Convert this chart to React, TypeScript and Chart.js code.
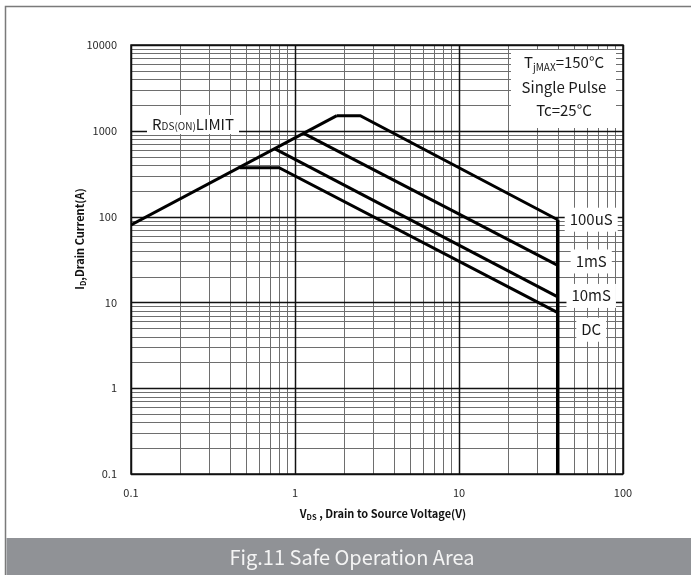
import React, { useEffect, useRef } from "react";
import { Chart, registerables } from "chart.js";

Chart.register(...registerables);

const FONT = '"Noto Sans CJK SC", "Noto Sans", sans-serif';

// Axis ticks
const xTickValues = [0.1, 1, 10, 100];
const xTickLabels = ["0.1", "1", "10", "100"];
const yTickValues = [0.1, 1, 10, 100, 1000, 10000];
const yTickLabels = ["0.1", "1", "10", "100", "1000", "10000"];

// Series (VDS in V, ID in A)
const rdsLimitV = [0.1, 1.8];
const rdsLimitI = [80, 1500];
const us100V = [1.8, 2.5, 40];
const us100I = [1500, 1500, 92];
const ms1V = [1.13, 40];
const ms1I = [935, 27];
const ms10V = [0.76, 40];
const ms10I = [612, 11.6];
const dcV = [0.46, 0.8, 40];
const dcI = [372, 372, 7.6];
const bvV = [40, 40];
const bvI = [92, 0.1];

const curveNames = ["100uS", "1mS", "10mS", "DC"];
const curveNameI = [92, 30, 11.9, 4.8];
const curveNameV = 64;

const toXY = (xs: number[], ys: number[]) => xs.map((x, i) => ({ x, y: ys[i] }));

function drawRich(
  ctx: CanvasRenderingContext2D,
  parts: { t: string; size: number; dy?: number; bold?: boolean }[],
  cx: number,
  baseline: number
) {
  let total = 0;
  const widths = parts.map((p) => {
    ctx.font = `${p.bold ? "bold " : ""}${p.size}px ${FONT}`;
    const w = ctx.measureText(p.t).width;
    total += w;
    return w;
  });
  let x = cx - total / 2;
  ctx.textAlign = "left";
  ctx.textBaseline = "alphabetic";
  parts.forEach((p, i) => {
    ctx.font = `${p.bold ? "bold " : ""}${p.size}px ${FONT}`;
    ctx.fillText(p.t, x, baseline + (p.dy || 0));
    x += widths[i];
  });
  return total;
}

const gridPlugin = {
  id: "logGrid",
  beforeDatasetsDraw(chart: any) {
    const { ctx, chartArea: a, scales } = chart;
    const xs = scales.x;
    const ys = scales.y;
    ctx.save();
    const vline = (v: number) => {
      const px = Math.round(xs.getPixelForValue(v)) + 0.5;
      ctx.beginPath();
      ctx.moveTo(px, a.top);
      ctx.lineTo(px, a.bottom);
      ctx.stroke();
    };
    const hline = (v: number) => {
      const py = Math.round(ys.getPixelForValue(v)) + 0.5;
      ctx.beginPath();
      ctx.moveTo(a.left, py);
      ctx.lineTo(a.right, py);
      ctx.stroke();
    };
    ctx.strokeStyle = "#6e6e6e";
    ctx.lineWidth = 1;
    for (let e = -1; e <= 1; e++) for (let m = 2; m <= 9; m++) vline(m * Math.pow(10, e));
    for (let e = -1; e <= 3; e++) for (let m = 2; m <= 9; m++) hline(m * Math.pow(10, e));
    ctx.strokeStyle = "#111";
    ctx.lineWidth = 1.5;
    xTickValues.forEach(vline);
    yTickValues.forEach(hline);
    ctx.strokeRect(a.left, a.top, a.right - a.left, a.bottom - a.top);
    ctx.restore();
  },
  afterDatasetsDraw(chart: any) {
    const { ctx, scales } = chart;
    const xs = scales.x;
    const ys = scales.y;
    ctx.save();
    ctx.fillStyle = "#1a1a1a";

    // RDS(ON) LIMIT label
    ctx.fillStyle = "#fff";
    ctx.fillRect(147, 115, 92, 19);
    ctx.fillStyle = "#1a1a1a";
    drawRich(
      ctx,
      [
        { t: "R", size: 15 },
        { t: "DS(ON)", size: 10 },
        { t: "LIMIT", size: 15 },
      ],
      193,
      130
    );

    // Condition box
    ctx.fillStyle = "#fff";
    ctx.fillRect(511, 50, 105, 78);
    ctx.fillStyle = "#1a1a1a";
    drawRich(
      ctx,
      [
        { t: "T", size: 15 },
        { t: "jMAX", size: 10, dy: 3 },
        { t: "=150°C", size: 15 },
      ],
      564,
      68
    );
    drawRich(ctx, [{ t: "Single Pulse", size: 15 }], 564, 93);
    drawRich(ctx, [{ t: "Tc=25°C", size: 15 }], 564, 116);

    // curve names
    const cx = xs.getPixelForValue(curveNameV);
    curveNames.forEach((n, i) => {
      const cy = ys.getPixelForValue(curveNameI[i]);
      ctx.font = `15px ${FONT}`;
      const w = ctx.measureText(n).width;
      ctx.fillStyle = "#fff";
      ctx.fillRect(cx - w / 2 - 5, cy - 12, w + 10, 24);
      ctx.fillStyle = "#1a1a1a";
      drawRich(ctx, [{ t: n, size: 15 }], cx, cy + 5.5);
    });
    ctx.restore();
  },
  afterDraw(chart: any) {
    const { ctx, chartArea: a } = chart;
    ctx.save();
    // outer frame
    ctx.strokeStyle = "#7a7a7a";
    ctx.lineWidth = 1.5;
    ctx.beginPath();
    ctx.moveTo(691, 6.5);
    ctx.lineTo(5.5, 6.5);
    ctx.lineTo(5.5, 575);
    ctx.stroke();
    // footer
    ctx.fillStyle = "#909296";
    ctx.fillRect(6.5, 538, 691 - 6.5, 37);
    ctx.fillStyle = "#f4f4f4";
    drawRich(ctx, [{ t: "Fig.11 Safe Operation Area", size: 20 }], 352, 565);

    // axis titles
    ctx.fillStyle = "#111";
    drawRich(
      ctx,
      [
        { t: "V", size: 11, bold: true },
        { t: "DS", size: 7.5, bold: true, dy: 2 },
        { t: " , Drain to Source Voltage(V)", size: 11, bold: true },
      ],
      (a.left + a.right) / 2 + 6,
      518
    );
    ctx.translate(84, 239);
    ctx.rotate(-Math.PI / 2);
    drawRich(
      ctx,
      [
        { t: "I", size: 11, bold: true },
        { t: "D", size: 7.5, bold: true, dy: 2 },
        { t: ",Drain Current(A)", size: 11, bold: true },
      ],
      0,
      0
    );
    ctx.restore();
  },
};

export default function App() {
  const ref = useRef<HTMLCanvasElement>(null);
  useEffect(() => {
    if (!ref.current) return;
    const line = (xs: number[], ys: number[], w = 3) => ({
      data: toXY(xs, ys),
      showLine: true,
      borderColor: "#000",
      backgroundColor: "#000",
      borderWidth: w,
      pointRadius: 0,
      borderJoinStyle: "miter" as const,
      fill: false,
      tension: 0,
    });
    const chart = new Chart(ref.current, {
      type: "scatter",
      data: {
        datasets: [
          line(rdsLimitV, rdsLimitI),
          line(us100V, us100I),
          line(ms1V, ms1I),
          line(ms10V, ms10I),
          line(dcV, dcI),
          line(bvV, bvI, 3.5),
        ],
      },
      options: {
        animation: false,
        responsive: false,
        maintainAspectRatio: false,
        layout: { padding: { left: 0, top: 45, right: 68, bottom: 41 } },
        plugins: {
          legend: { display: false },
          tooltip: { enabled: false },
          title: { display: false },
        },
        scales: {
          x: {
            type: "logarithmic",
            min: 0.1,
            max: 100,
            grid: { display: false, drawTicks: false },
            border: { display: false },
            afterBuildTicks: (s: any) => {
              s.ticks = xTickValues.map((v) => ({ value: v }));
            },
            afterFit: (s: any) => {
              s.height = 60;
            },
            ticks: {
              autoSkip: false,
              maxRotation: 0,
              padding: 12,
              color: "#2a2a2a",
              font: { family: FONT, size: 11 },
              callback: (_v: any, i: number) => xTickLabels[i],
            },
          },
          y: {
            type: "logarithmic",
            min: 0.1,
            max: 10000,
            grid: { display: false, drawTicks: false },
            border: { display: false },
            afterBuildTicks: (s: any) => {
              s.ticks = yTickValues.map((v) => ({ value: v }));
            },
            afterFit: (s: any) => {
              s.width = 131;
            },
            ticks: {
              autoSkip: false,
              padding: 14,
              color: "#2a2a2a",
              font: { family: FONT, size: 11 },
              callback: (_v: any, i: number) => yTickLabels[i],
            },
          },
        },
      } as any,
      plugins: [gridPlugin],
    });
    return () => chart.destroy();
  }, []);
  return (
    <div style={{ position: "absolute", left: 0, top: 0, width: 691, height: 575, background: "#fff" }}>
      <canvas ref={ref} width={691} height={575} style={{ width: 691, height: 575, display: "block" }} />
    </div>
  );
}
